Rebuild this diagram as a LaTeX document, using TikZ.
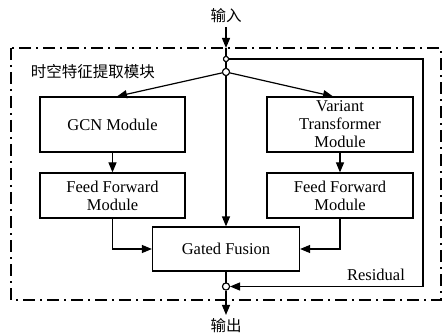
\documentclass[tikz,border=0pt]{standalone}
\usepackage{fontspec}
\setmainfont{Liberation Serif}
\newfontfamily\serifen{Liberation Serif}
\newfontfamily\cjk{Noto Sans CJK SC}
\usetikzlibrary{arrows.meta,calc}
\begin{document}
\begin{tikzpicture}[x=1pt,y=-1pt,
  line width=1.2pt,
  every node/.style={font=\serifen\fontsize{16.5}{18}\selectfont},
  box/.style={draw, line width=1.2pt, align=center, inner sep=0pt},
  arr/.style={-{Triangle[length=10pt,width=8pt]}},
  junc/.style={circle, draw, fill=white, line width=1pt, inner sep=0pt},
  frame/.style={line width=1.1pt, dash pattern=on 12pt off 5pt on 2pt off 5pt},
  cjktext/.style={font=\cjk\fontsize{15.5}{18}\selectfont}
]
\useasboundingbox (0,0) rectangle (442,334);
% frame
\draw[frame] (11,48) rectangle (441,300);
% texts
\node[cjktext] (in) at (226,16) {输入};
\node[cjktext] (out) at (226,326) {输出};
\node[cjktext, anchor=west] (title) at (27,72) {时空特征提取模块};
% boxes
\node[box, minimum width=145pt, minimum height=55pt] (gcn) at (112.5,124.5) {GCN Module};
\node[box, minimum width=145pt, minimum height=45pt] (ffl) at (112.5,195.5) {Feed Forward\\Module};
\node[box, minimum width=146pt, minimum height=55pt] (vt) at (340,124.5) {Variant\\Transformer\\Module};
\node[box, minimum width=146pt, minimum height=45pt] (ffr) at (340,195.5) {Feed Forward\\Module};
\node[box, minimum width=147pt, minimum height=44pt] (gf) at (226,249) {Gated Fusion};
% junctions
\node[junc, minimum size=5pt] (j1) at (226,59) {};
\node[junc, minimum size=7pt] (j2) at (226,72) {};
\node[junc, minimum size=7pt] (j3) at (226,286.5) {};
\coordinate (entry) at (226,48);
\coordinate (r1) at (423,59);
\coordinate (r2) at (423,286.5);
% connectors
\draw[arr] (in.south) -- (entry);
\draw (entry) -- (j1);
\draw (j1) -- (j2);
\draw[arr] (j2) -- ([xshift=4.5pt]gcn.north);
\draw[arr] (j2) -- ([xshift=-7pt]vt.north);
\draw[arr] (j2) -- (gf.north);
\draw[arr] (gcn.south) -- (ffl.north);
\draw[arr] (vt.south) -- (ffr.north);
\draw[arr] (ffl.south) |- (gf.west);
\draw[arr] (ffr.south) |- (gf.east);
\draw (gf.south) -- (j3);
\draw[arr] (j1) -- (r1) -- (r2) -- (j3);
\draw[arr] (j3) -- (out.north);
\node[anchor=south] (res) at (376,285) {Residual};
% redraw junctions on top
\node[junc, minimum size=5pt] at (j1) {};
\node[junc, minimum size=7pt] at (j2) {};
\node[junc, minimum size=7pt] at (j3) {};
\end{tikzpicture}
\end{document}
